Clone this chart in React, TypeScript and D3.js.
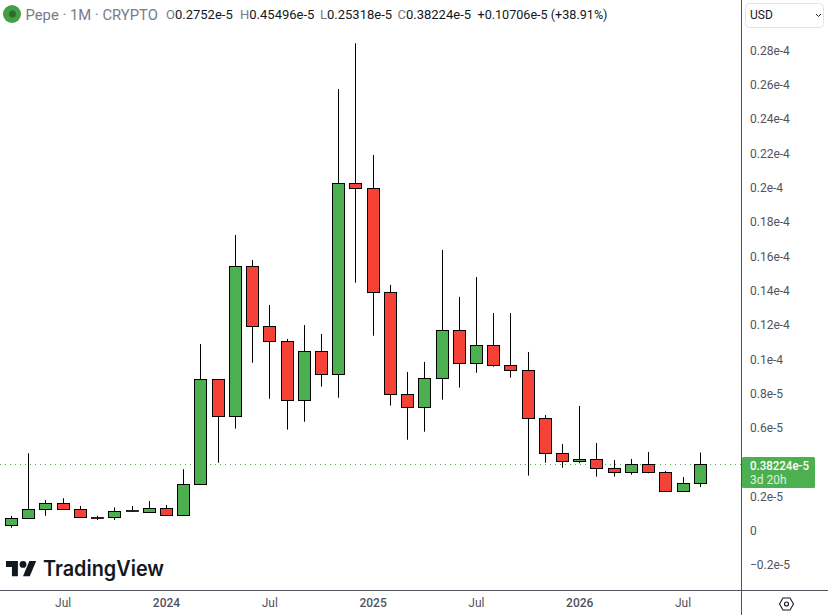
import React from "react";
import * as d3 from "d3";

// Monthly candles Apr 2023 .. Aug 2026, values in units of 1e-6 USD
const opens = [0.28,0.71,1.24,1.59,1.24,0.77,0.77,1.10,1.06,1.29,0.89,2.69,8.82,6.66,15.41,11.91,11.03,7.59,10.45,9.11,20.25,19.95,13.89,7.94,7.18,8.87,11.67,9.75,10.80,9.63,9.34,6.54,4.50,4.03,4.15,3.63,3.39,3.86,3.39,2.29,2.752];
const highs = [0.85,4.50,1.78,1.88,1.43,0.86,1.35,1.43,1.72,1.49,3.57,10.87,8.84,17.23,15.77,13.15,11.17,11.98,11.46,25.74,28.41,21.90,14.32,9.24,9.83,16.36,13.62,14.78,12.68,12.68,10.41,6.73,5.04,7.26,5.10,4.11,4.17,4.58,3.47,3.12,4.5496];
const lows = [0.16,0.70,0.86,1.22,0.75,0.61,0.61,1.08,1.05,0.87,0.87,2.67,3.95,5.94,9.78,7.68,5.88,6.34,8.39,7.74,14.45,11.36,7.28,5.29,5.76,7.63,8.33,9.20,9.55,8.91,3.20,3.95,3.66,3.92,3.14,3.14,3.25,3.34,2.27,2.27,2.5318];
const closes = [0.71,1.24,1.59,1.24,0.77,0.75,1.12,1.14,1.29,0.89,2.69,8.82,6.66,15.41,11.91,11.03,7.59,10.45,9.11,20.25,19.95,13.89,7.94,7.18,8.87,11.67,9.75,10.80,9.63,9.34,6.54,4.50,4.03,4.15,3.63,3.39,3.86,3.39,2.29,2.752,3.8224];

const yTicks = [28,26,24,22,20,18,16,14,12,10,8,6,2,0,-2];
const yTickLabels = ["0.28e-4","0.26e-4","0.24e-4","0.22e-4","0.2e-4","0.18e-4","0.16e-4","0.14e-4","0.12e-4","0.1e-4","0.8e-5","0.6e-5","0.2e-5","0","\u22120.2e-5"];
const xTickIndex = [3,9,15,21,27,33,39];
const xTickLabels = ["Jul","2024","Jul","2025","Jul","2026","Jul"];
const lastPrice = 3.8224;

const UP = "#4CAF50";
const DOWN = "#F44336";
const AXIS = "#50535E";
const FONT = "Roboto, 'Open Sans', sans-serif";

const x = d3.scaleLinear().domain([0, 40]).range([11.5, 700.3]);
const y = d3.scaleLinear().domain([0, 28]).range([530.5, 50.3]);
const crisp = (v: number) => Math.round(v - 0.5) + 0.5;

export default function App() {
  const idx = d3.range(opens.length);
  return (
    <svg width={828} height={615} style={{ position: "absolute", left: 0, top: 0, background: "#fff" }} fontFamily={FONT}>
      {/* price line */}
      <line x1={0} x2={741} y1={crisp(y(lastPrice))} y2={crisp(y(lastPrice))} stroke={UP} strokeDasharray="1 4" />
      {/* candles */}
      {idx.map((i) => {
        const cx = crisp(x(i));
        const top = y(Math.max(opens[i], closes[i]));
        const bot = y(Math.min(opens[i], closes[i]));
        const t = crisp(top);
        const b = Math.max(crisp(bot), t + 1);
        const thin = bot - top < 1.5;
        return (
          <g key={i}>
            <line x1={cx} x2={cx} y1={y(highs[i])} y2={y(lows[i])} stroke="#000" />
            <rect x={cx - 6} y={t} width={12} height={b - t}
              fill={closes[i] >= opens[i] ? UP : DOWN} stroke="#000" strokeWidth={thin ? 0.8 : 1} />
          </g>
        );
      })}

      {/* header */}
      <circle cx={12} cy={14} r={9} fill="#43A047" />
      <circle cx={12.5} cy={14} r={3.5} fill="#2E6B30" />
      <text x={25.5} y={19.5} fontSize={14.8} fill="#787B86">Pepe · 1M · CRYPTO</text>
      <text y={19} fontSize={13} fill="#131722">
        <tspan x={166} fill="#787B86">O</tspan><tspan>0.2752e-5</tspan>
        <tspan x={240} fill="#787B86">H</tspan><tspan>0.45496e-5</tspan>
        <tspan x={320} fill="#787B86">L</tspan><tspan>0.25318e-5</tspan>
        <tspan x={397.5} fill="#787B86">C</tspan><tspan>0.38224e-5</tspan>
      </text>
      <text x={477.5} y={19} fontSize={12.6} fill="#131722">+0.10706e-5 (+38.91%)</text>

      {/* logo */}
      <g transform="translate(6 557.6) scale(0.85)" fill="#131722">
        <path d="M14 22H7V11H0V4h14v18ZM28 22h-8l7.5-18h8L28 22Z" />
        <circle cx={20} cy={8} r={4} />
      </g>
      <text x={43} y={576} fontSize={21} fontWeight={600} fill="#131722" fontFamily="Inter, sans-serif" textLength={121} lengthAdjust="spacingAndGlyphs">TradingView</text>

      {/* axes */}
      <line x1={741.5} x2={741.5} y1={0} y2={615} stroke={AXIS} />
      <line x1={0} x2={828} y1={590.5} y2={590.5} stroke={AXIS} />
      {yTicks.map((t, i) => (
        <text key={t} x={750} y={y(t) + 4.5} fontSize={12} fill="#50535E">{yTickLabels[i]}</text>
      ))}
      {xTickIndex.map((k, i) => (
        <text key={k} x={x(k)} y={607} fontSize={12} textAnchor="middle" fill="#50535E"
          fontWeight={xTickLabels[i] === "Jul" ? 400 : 500}>{xTickLabels[i]}</text>
      ))}

      {/* last price label */}
      <rect x={742} y={457} width={73} height={31} rx={1.5} fill={UP} />
      <text x={750} y={470} fontSize={12} fontWeight={500} fill="#fff" textLength={59} lengthAdjust="spacingAndGlyphs">0.38224e-5</text>
      <text x={750} y={484} fontSize={12} fill="#fff" fillOpacity={0.85}>3d 20h</text>

      {/* currency button */}
      <rect x={745.5} y={3.5} width={78} height={24} rx={4} fill="#fff" stroke="#E0E3EB" />
      <text x={750} y={19} fontSize={12} fontWeight={400} fill="#131722">USD</text>
      <path d="M816 14l2.5 2.5 2.5-2.5" fill="none" stroke="#131722" strokeWidth={1} />

      {/* settings */}
      <path d="M779.5 604l3.5-6h7l3.5 6-3.5 6h-7Z" fill="none" stroke="#131722" strokeWidth={1.1} />
      <circle cx={786.5} cy={604} r={2} fill="none" stroke="#131722" strokeWidth={1.1} />
    </svg>
  );
}
